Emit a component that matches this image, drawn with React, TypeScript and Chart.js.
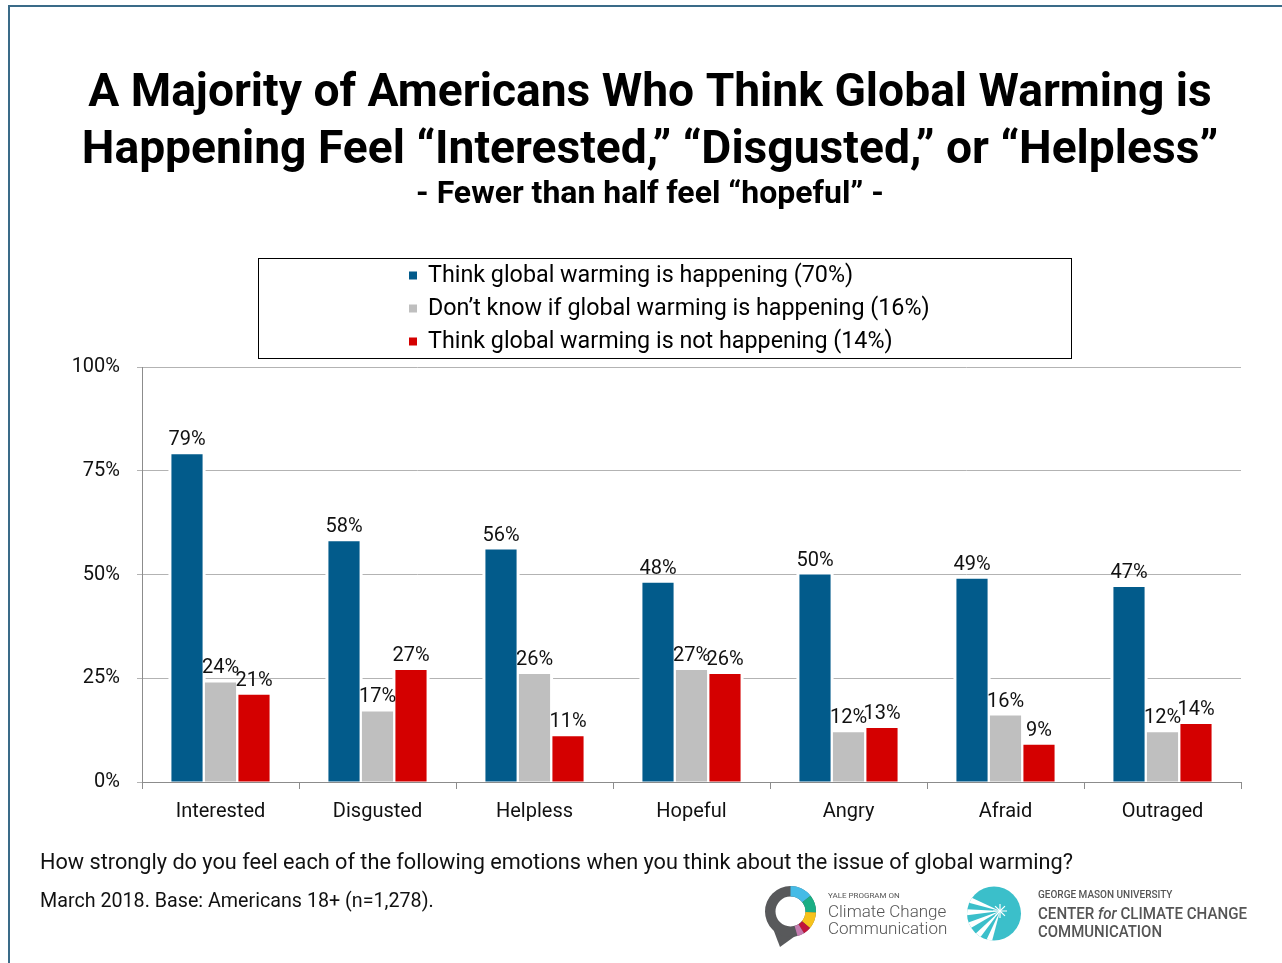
import React, { useEffect, useRef } from "react";
import { Chart, registerables } from "chart.js";

Chart.register(...registerables);

const categories = ["Interested", "Disgusted", "Helpless", "Hopeful", "Angry", "Afraid", "Outraged"];
const happening = [79, 58, 56, 48, 50, 49, 47];
const dontKnow = [24, 17, 26, 27, 12, 16, 12];
const notHappening = [21, 27, 11, 26, 13, 9, 14];
const seriesNames = [
  "Think global warming is happening (70%)",
  "Don\u2019t know if global warming is happening (16%)",
  "Think global warming is not happening (14%)",
];
const seriesColors = ["#025b8b", "#bfbfbf", "#d40000"];
const yTicks = [0, 25, 50, 75, 100];
const titleLines = [
  "A Majority of Americans Who Think Global Warming is",
  "Happening Feel \u201cInterested,\u201d \u201cDisgusted,\u201d or \u201cHelpless\u201d",
];
const subtitle = "- Fewer than half feel \u201chopeful\u201d -";
const question =
  "How strongly do you feel each of the following emotions when you think about the issue of global warming?";
const baseNote = "March 2018. Base: Americans 18+ (n=1,278).";

const FONT = "Roboto, 'Noto Sans', sans-serif";

function drawYaleLogo(ctx: CanvasRenderingContext2D) {
  const cx = 790.5, cy = 911.5, R = 25.5, r = 15;
  const ring = (a0: number, a1: number, color: string) => {
    ctx.beginPath();
    ctx.arc(cx, cy, R, (a0 * Math.PI) / 180, (a1 * Math.PI) / 180);
    ctx.arc(cx, cy, r, (a1 * Math.PI) / 180, (a0 * Math.PI) / 180, true);
    ctx.closePath();
    ctx.fillStyle = color;
    ctx.fill();
  };
  ctx.save();
  ctx.beginPath();
  ctx.moveTo(772, 926);
  ctx.lineTo(798, 934);
  ctx.lineTo(780, 947);
  ctx.closePath();
  ctx.fillStyle = "#58595b";
  ctx.fill();
  ring(0, 360, "#58595b");
  ring(-90, -38, "#45bbe6");
  ring(-38, 2, "#1aae84");
  ring(2, 40, "#f6c21c");
  ring(40, 58, "#c1143b");
  ring(58, 74, "#c47bb0");
  ctx.fillStyle = "#555";
  ctx.textAlign = "left";
  ctx.textBaseline = "alphabetic";
  ctx.font = `8px ${FONT}`;
  ctx.fillText("YALE PROGRAM ON", 828, 898, 88);
  ctx.font = `300 17px ${FONT}`;
  ctx.fillText("Climate Change", 828, 917, 124);
  ctx.fillText("Communication", 828, 934, 124);
  ctx.restore();
}

function drawGmuLogo(ctx: CanvasRenderingContext2D) {
  const cx = 994, cy = 913.5, R = 27;
  ctx.save();
  ctx.beginPath();
  ctx.arc(cx, cy, R, 0, Math.PI * 2);
  ctx.fillStyle = "#3bbfca";
  ctx.fill();
  ctx.clip();
  const ox = 1000, oy = 911;
  const rays = [200, 178, 155, 132, 110];
  ctx.fillStyle = "#ffffff";
  rays.forEach((deg) => {
    const a = (deg * Math.PI) / 180;
    const w = 0.09;
    ctx.beginPath();
    ctx.moveTo(ox, oy);
    ctx.lineTo(ox + Math.cos(a - w) * 45, oy + Math.sin(a - w) * 45);
    ctx.lineTo(ox + Math.cos(a + w) * 45, oy + Math.sin(a + w) * 45);
    ctx.closePath();
    ctx.fill();
  });
  for (let i = 0; i < 8; i++) {
    const a = (i * Math.PI) / 4;
    ctx.beginPath();
    ctx.moveTo(ox, oy);
    ctx.lineTo(ox + Math.cos(a) * 7, oy + Math.sin(a) * 7);
    ctx.lineWidth = 1.2;
    ctx.strokeStyle = "#ffffff";
    ctx.stroke();
  }
  ctx.restore();

  ctx.save();
  ctx.fillStyle = "#555";
  ctx.textAlign = "left";
  ctx.textBaseline = "alphabetic";
  ctx.font = `500 10px ${FONT}`;
  ctx.fillText("GEORGE MASON UNIVERSITY", 1038, 898, 140);
  const y2 = 919;
  const parts: [string, string][] = [
    ["CENTER ", `500 17px ${FONT}`],
    ["for", `italic 500 17px ${FONT}`],
    [" CLIMATE CHANGE", `500 17px ${FONT}`],
  ];
  let total = 0;
  parts.forEach(([t, f]) => {
    ctx.font = f;
    total += ctx.measureText(t).width;
  });
  const sx = 209 / total;
  ctx.translate(1038, y2);
  ctx.scale(sx, 1);
  let x = 0;
  parts.forEach(([t, f]) => {
    ctx.font = f;
    ctx.fillText(t, x, 0);
    x += ctx.measureText(t).width;
  });
  ctx.setTransform(1, 0, 0, 1, 0, 0);
  ctx.font = `500 17px ${FONT}`;
  ctx.fillText("COMMUNICATION", 1038, 937, 124);
  ctx.restore();
}

const decorPlugin = {
  id: "decor",
  beforeDraw(chart: any) {
    const ctx = chart.ctx as CanvasRenderingContext2D;
    ctx.save();
    ctx.fillStyle = "#ffffff";
    ctx.fillRect(0, 0, chart.width, chart.height);
    ctx.fillStyle = "#3a6b88";
    ctx.fillRect(8, 5, chart.width - 8, 2);
    ctx.fillRect(8, 5, 2, chart.height - 5);
    ctx.fillStyle = "#000";
    ctx.textAlign = "center";
    ctx.textBaseline = "alphabetic";
    ctx.font = `bold 46.2px ${FONT}`;
    ctx.fillText(titleLines[0], 650, 106);
    ctx.fillText(titleLines[1], 650, 163);
    ctx.font = `bold 32px ${FONT}`;
    ctx.fillText(subtitle, 650, 203);
    ctx.strokeStyle = "#000";
    ctx.lineWidth = 1;
    ctx.strokeRect(258.5, 258.5, 813, 100);
    ctx.textAlign = "left";
    ctx.font = `23.3px ${FONT}`;
    seriesNames.forEach((name, i) => {
      const cy = 275.5 + i * 33;
      ctx.fillStyle = seriesColors[i];
      ctx.fillRect(409, cy - 4, 8, 8);
      ctx.fillStyle = "#000";
      ctx.textBaseline = "middle";
      ctx.fillText(name, 428, cy + 1);
    });
    ctx.textBaseline = "alphabetic";
    ctx.fillStyle = "#111";
    ctx.font = `21.7px ${FONT}`;
    ctx.fillText(question, 40, 869);
    ctx.font = `19.7px ${FONT}`;
    ctx.fillText(baseNote, 40, 907);
    ctx.restore();
    drawYaleLogo(ctx);
    drawGmuLogo(ctx);
  },
  beforeDatasetsDraw(chart: any) {
    const ctx = chart.ctx as CanvasRenderingContext2D;
    const bottom = chart.chartArea.bottom;
    ctx.save();
    ctx.fillStyle = "#ffffff";
    chart.data.datasets.forEach((_: any, di: number) => {
      const meta = chart.getDatasetMeta(di);
      meta.data.forEach((bar: any) => {
        const { x, y, width } = bar.getProps(["x", "y", "width"], true);
        ctx.fillRect(x - width / 2 - 3, y - 3, width + 6, bottom - 1 - (y - 3));
      });
    });
    ctx.restore();
  },
  afterDatasetsDraw(chart: any) {
    const ctx = chart.ctx as CanvasRenderingContext2D;
    ctx.save();
    ctx.fillStyle = "#111";
    ctx.font = `20px ${FONT}`;
    ctx.textAlign = "center";
    ctx.textBaseline = "alphabetic";
    chart.data.datasets.forEach((ds: any, di: number) => {
      const meta = chart.getDatasetMeta(di);
      meta.data.forEach((bar: any, i: number) => {
        const { x, y } = bar.getProps(["x", "y"], true);
        ctx.fillText(`${ds.data[i]}%`, x, y - 9);
      });
    });
    ctx.restore();
  },
};

export default function App() {
  const ref = useRef<HTMLCanvasElement | null>(null);
  useEffect(() => {
    if (!ref.current) return;
    const chart = new Chart(ref.current, {
      type: "bar",
      data: {
        labels: categories,
        datasets: [
          { label: seriesNames[0], data: happening, backgroundColor: seriesColors[0] },
          { label: seriesNames[1], data: dontKnow, backgroundColor: seriesColors[1] },
          { label: seriesNames[2], data: notHappening, backgroundColor: seriesColors[2] },
        ],
      },
      options: {
        responsive: false,
        animation: false,
        devicePixelRatio: 1,
        categoryPercentage: 0.64,
        barPercentage: 0.93,
        layout: { padding: { left: 0, right: 41, top: 367, bottom: 0 } },
        plugins: {
          legend: { display: false },
          title: { display: false },
          tooltip: { enabled: false },
        },
        scales: {
          x: {
            grid: {
              offset: true,
              drawOnChartArea: false,
              drawTicks: true,
              tickLength: 7,
              color: "#8c8c8c",
            },
            border: { color: "#8c8c8c", width: 1 },
            ticks: { color: "#111", font: { family: FONT, size: 20 }, padding: 11 },
            afterFit(scale: any) {
              scale.height = 181;
            },
          },
          y: {
            min: 0,
            max: 100,
            afterBuildTicks(scale: any) {
              scale.ticks = yTicks.map((v) => ({ value: v }));
            },
            grid: { color: "#b3b3b3", tickLength: 5, drawTicks: true },
            border: { color: "#8c8c8c", width: 1 },
            ticks: {
              color: "#111",
              font: { family: FONT, size: 20 },
              padding: 17,
              callback: (v: any) => `${v}%`,
            },
            afterFit(scale: any) {
              scale.width = 142;
            },
          },
        },
      } as any,
      plugins: [decorPlugin],
    });
    return () => chart.destroy();
  }, []);
  return (
    <div style={{ position: "absolute", left: 0, top: 0, width: 1282, height: 963 }}>
      <canvas ref={ref} width={1282} height={963} style={{ display: "block" }} />
    </div>
  );
}
